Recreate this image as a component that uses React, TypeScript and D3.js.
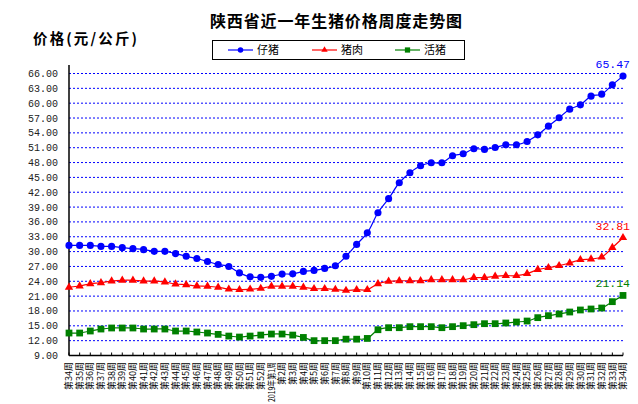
import React from 'react';
import * as d3 from 'd3';

// 周标签（近一年）
const weeks: string[] = [
  '第34周', '第35周', '第36周', '第37周', '第38周', '第39周', '第40周', '第41周', '第42周', '第43周',
  '第44周', '第45周', '第46周', '第47周', '第48周', '第49周', '第50周', '第51周', '第52周', '2019年第1周',
  '第2周', '第3周', '第4周', '第5周', '第6周', '第7周', '第8周', '第9周', '第10周', '第11周',
  '第12周', '第13周', '第14周', '第15周', '第16周', '第17周', '第18周', '第19周', '第20周', '第21周',
  '第22周', '第23周', '第24周', '第25周', '第26周', '第27周', '第28周', '第29周', '第30周', '第31周',
  '第32周', '第33周', '第34周',
];

const piglet: number[] = [
  31.25, 31.25, 31.25, 31.05, 31.05, 30.8, 30.6, 30.4, 30.05, 30.05,
  29.6, 29.05, 28.6, 28.0, 27.4, 27.0, 25.7, 24.9, 24.8, 25.0,
  25.45, 25.5, 26.0, 26.2, 26.6, 27.15, 29.05, 31.46, 33.8, 37.86,
  40.7, 43.92, 45.94, 47.35, 47.96, 47.96, 49.37, 49.77, 50.79, 50.65,
  51.05, 51.59, 51.59, 52.26, 53.6, 55.36, 57.05, 58.79, 59.67, 61.42,
  61.82, 63.71, 65.47,
];

const pork: number[] = [
  22.8, 23.05, 23.5, 23.7, 24.05, 24.2, 24.2, 24.05, 24.05, 23.85,
  23.45, 23.3, 23.05, 23.0, 22.8, 22.4, 22.3, 22.4, 22.55, 23.0,
  23.0, 23.0, 22.8, 22.5, 22.5, 22.35, 22.15, 22.3, 22.3, 23.5,
  23.98, 24.1, 24.1, 24.1, 24.3, 24.3, 24.3, 24.3, 24.73, 24.73,
  25.0, 25.13, 25.13, 25.54, 26.35, 26.75, 27.15, 27.7, 28.36, 28.5,
  28.9, 30.8, 32.81,
];

const hog: number[] = [
  13.54, 13.54, 13.95, 14.35, 14.56, 14.56, 14.56, 14.35, 14.35, 14.35,
  13.95, 13.95, 13.75, 13.54, 13.27, 12.93, 12.73, 12.93, 13.13, 13.34,
  13.34, 13.13, 12.65, 12.0, 12.0, 12.0, 12.3, 12.3, 12.45, 14.21,
  14.62, 14.62, 14.83, 14.83, 14.83, 14.62, 14.83, 15.03, 15.23, 15.43,
  15.43, 15.57, 15.77, 15.97, 16.65, 17.05, 17.39, 17.79, 18.2, 18.4,
  18.6, 19.88, 21.14,
];

const yTicks: number[] = d3.range(9, 67, 3);

const seriesNames = ['仔猪', '猪肉', '活猪'];

const cjk = '"Noto Sans CJK SC", "Noto Sans", sans-serif';
const mono = '"Liberation Mono", "DejaVu Sans Mono", monospace';

const App: React.FC = () => {
  const W = 638;
  const H = 404;
  const left = 69;
  const right = 623;
  const top = 73.5;
  const bottom = 355.5;

  const x = d3.scaleLinear().domain([0, weeks.length - 1]).range([left, right]);
  const y = d3.scaleLinear().domain([9, 66]).range([bottom, top]);

  const line = d3.line<number>()
    .x((_, i) => x(i))
    .y(d => y(d))
    .curve(d3.curveCatmullRom.alpha(0.5));

  const series = [
    { name: seriesNames[0], data: piglet, color: '#0000FF', shape: d3.symbolCircle, size: 40 },
    { name: seriesNames[1], data: pork, color: '#FF0000', shape: d3.symbolTriangle, size: 30 },
    { name: seriesNames[2], data: hog, color: '#008000', shape: d3.symbolSquare, size: 46 },
  ];

  const legendX = [228, 312, 395];

  return (
    <svg width={W} height={H} style={{ position: 'absolute', left: 0, top: 0, background: '#fff' }}>
      {/* 标题 */}
      <text x={336} y={27} textAnchor="middle" fontFamily={cjk} fontWeight="bold" fontSize={16}
        textLength={252} lengthAdjust="spacing">
        陕西省近一年生猪价格周度走势图
      </text>
      <text x={33} y={44} fontFamily={cjk} fontWeight="bold" fontSize={14.5}
        textLength={104} lengthAdjust="spacing">
        价格(元/公斤)
      </text>

      {/* 图例 */}
      <rect x={212.5} y={40.5} width={252} height={19} fill="none" stroke="#000" strokeWidth={1} />
      {series.map((s, i) => (
        <g key={s.name} transform={`translate(${legendX[i]},50)`}>
          <line x1={0} x2={25} y1={0} y2={0} stroke={s.color} strokeWidth={1.2} />
          <path d={d3.symbol(s.shape, s.size * 0.6)()!} transform="translate(12.5,0)" fill={s.color} />
          <text x={29} y={4} fontFamily={cjk} fontSize={11}>{s.name}</text>
        </g>
      ))}

      {/* 网格线 */}
      {yTicks.filter(t => t > 9).map(t => (
        <line key={t} x1={left} x2={right} y1={y(t)} y2={y(t)} stroke="#0000FF" strokeWidth={1}
          strokeDasharray="2,2" />
      ))}

      {/* Y 轴 */}
      <line x1={left} x2={left} y1={65} y2={bottom} stroke="#000" strokeWidth={1.5} />
      {yTicks.map(t => (
        <text key={t} x={58} y={y(t)} dy="0.35em" textAnchor="end" fontFamily={mono} fontSize={10}
          fill="#222">
          {t.toFixed(2)}
        </text>
      ))}

      {/* X 轴 */}
      <line x1={left} x2={right} y1={bottom} y2={bottom} stroke="#000" strokeWidth={1.5} />
      {weeks.map((w, i) => (
        <g key={i}>
          <line x1={x(i)} x2={x(i)} y1={bottom} y2={bottom - 3} stroke="#000" strokeWidth={1} />
          <text transform={`translate(${x(i)},362) rotate(-90)`} dy="0.35em" textAnchor="end"
            fontFamily={cjk} fontSize={9}
            {...(w.length > 5 ? { textLength: 40, lengthAdjust: 'spacingAndGlyphs' } : {})}>
            {w}
          </text>
        </g>
      ))}

      {/* 折线 */}
      {series.map(s => (
        <g key={s.name}>
          <path d={line(s.data)!} fill="none" stroke={s.color} strokeWidth={1.2} />
          {s.data.map((v, i) => (
            <path key={i} d={d3.symbol(s.shape, s.size)()!}
              transform={`translate(${x(i)},${y(v)})`} fill={s.color} />
          ))}
          <text x={x(s.data.length - 1) + 7} y={y(s.data[s.data.length - 1]) - 8} textAnchor="end"
            fontFamily={mono} fontSize={11.5} fill={s.color}>
            {s.data[s.data.length - 1].toFixed(2)}
          </text>
        </g>
      ))}
    </svg>
  );
};

export default App;
